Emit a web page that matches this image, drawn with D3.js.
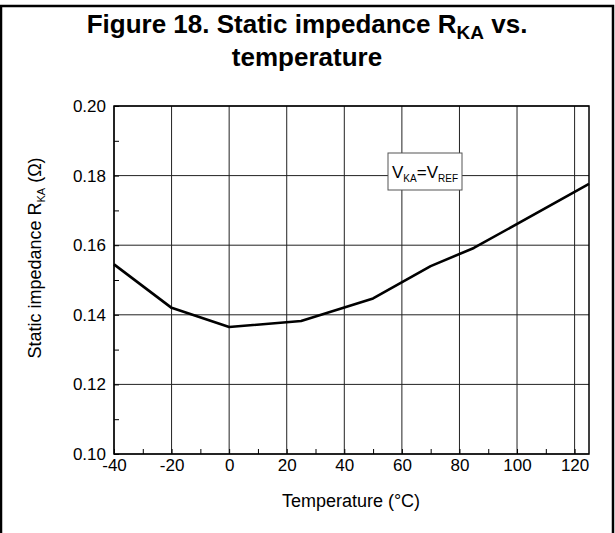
<!DOCTYPE html>
<html><head><meta charset="utf-8">
<script src="https://cdn.jsdelivr.net/npm/d3@7"></script>
<style>body{margin:0;background:#fff;} svg{display:block;font-family:"Liberation Sans",Arial,sans-serif;}</style>
</head><body>
<script>
const temps = [-40, -20, 0, 25, 50, 70, 85, 125];
const rka = [0.1545, 0.1420, 0.1365, 0.1382, 0.1447, 0.1540, 0.1592, 0.1776];
const xTicks = [-40, -20, 0, 20, 40, 60, 80, 100, 120];
const yTicks = [0.10, 0.12, 0.14, 0.16, 0.18, 0.20];
const xMinor = d3.range(-40, 126, 10);
const yMinor = d3.range(0.10, 0.2001, 0.01);

const W = 615, H = 533;
const m = {left:114, right:589, top:106, bottom:454};
const FF = "Liberation Sans, Arial, sans-serif";
const svg = d3.select("body").append("svg").attr("width", W).attr("height", H);
svg.append("rect").attr("width", W).attr("height", H).attr("fill", "#fff");
// frame
svg.append("path").attr("d", `M1,${H} L1,6 L613,6 L613,${H}`).attr("fill","none").attr("stroke","#000").attr("stroke-width",2.5);

const x = d3.scaleLinear().domain([-40,125]).range([m.left, m.right]);
const y = d3.scaleLinear().domain([0.10,0.20]).range([m.bottom, m.top]);

// title
const t = svg.append("text").attr("x", 307).attr("y", 33).attr("text-anchor","middle")
  .attr("font-size", 26).attr("font-weight","bold");
t.append("tspan").text("Figure 18. Static impedance R");
t.append("tspan").attr("font-size",19).attr("dy",6).text("KA");
t.append("tspan").attr("dy",-6).text(" vs.");
svg.append("text").attr("x", 307).attr("y", 66).attr("text-anchor","middle")
  .attr("font-size", 26).attr("font-weight","bold").text("temperature");

// grid
const g = svg.append("g");
g.selectAll(".vg").data(xTicks).join("line")
  .attr("x1", d=>x(d)).attr("x2", d=>x(d)).attr("y1", m.top).attr("y2", m.bottom)
  .attr("stroke","#222").attr("stroke-width",1);
g.selectAll(".hg").data(yTicks).join("line")
  .attr("y1", d=>y(d)).attr("y2", d=>y(d)).attr("x1", m.left).attr("x2", m.right)
  .attr("stroke","#222").attr("stroke-width",1);

// axes
const xAxis = d3.axisBottom(x).tickValues(xMinor).tickSize(-5).tickFormat("");
svg.append("g").attr("transform",`translate(0,${m.bottom})`).call(xAxis)
  .call(s=>{s.select(".domain").remove(); s.selectAll("line").attr("stroke","#000");});
const xAxisL = d3.axisBottom(x).tickValues(xTicks).tickSize(0).tickPadding(5).tickFormat(d=>String(d));
svg.append("g").attr("transform",`translate(0,${m.bottom})`).call(xAxisL)
  .call(s=>{s.select(".domain").remove(); s.attr("font-size",17).attr("font-family",FF); s.selectAll("text").attr("fill","#000");});
const yAxis = d3.axisLeft(y).tickValues(yMinor).tickSize(-5).tickFormat("");
svg.append("g").attr("transform",`translate(${m.left},0)`).call(yAxis)
  .call(s=>{s.select(".domain").remove(); s.selectAll("line").attr("stroke","#000");});
const yAxisL = d3.axisLeft(y).tickValues(yTicks).tickSize(0).tickPadding(8).tickFormat(d3.format(".2f"));
svg.append("g").attr("transform",`translate(${m.left},0)`).call(yAxisL)
  .call(s=>{s.select(".domain").remove(); s.attr("font-size",17).attr("font-family",FF); s.selectAll("text").attr("fill","#000");});

svg.append("rect").attr("x", m.left).attr("y", m.top).attr("width", m.right-m.left).attr("height", m.bottom-m.top)
  .attr("fill","none").attr("stroke","#000").attr("stroke-width",1.5);

// line
svg.append("path").datum(temps.map((d,i)=>[d, rka[i]]))
  .attr("d", d3.line().x(d=>x(d[0])).y(d=>y(d[1])))
  .attr("fill","none").attr("stroke","#000").attr("stroke-width",2.6).attr("stroke-linejoin","round");

// annotation box
svg.append("rect").attr("x", 388).attr("y", 153).attr("width", 74).attr("height", 37)
  .attr("fill","#fff").attr("stroke","#555").attr("stroke-width",1);
const a = svg.append("text").attr("x", 425).attr("y", 178).attr("text-anchor","middle").attr("font-size",17);
a.append("tspan").text("V");
a.append("tspan").attr("font-size",10).attr("dy",4).text("KA");
a.append("tspan").attr("dy",-4).text("=V");
a.append("tspan").attr("font-size",10).attr("dy",4).text("REF");

// axis titles
svg.append("text").attr("x", 351).attr("y", 507).attr("text-anchor","middle").attr("font-size",18)
  .text("Temperature (°C)");
const yl = svg.append("text").attr("transform","translate(41,258) rotate(-90)").attr("text-anchor","middle").attr("font-size",18);
yl.append("tspan").text("Static impedance R");
yl.append("tspan").attr("font-size",11).attr("dy",4).text("KA");
yl.append("tspan").attr("dy",-4).text(" (Ω)");
</script>
</body></html>
